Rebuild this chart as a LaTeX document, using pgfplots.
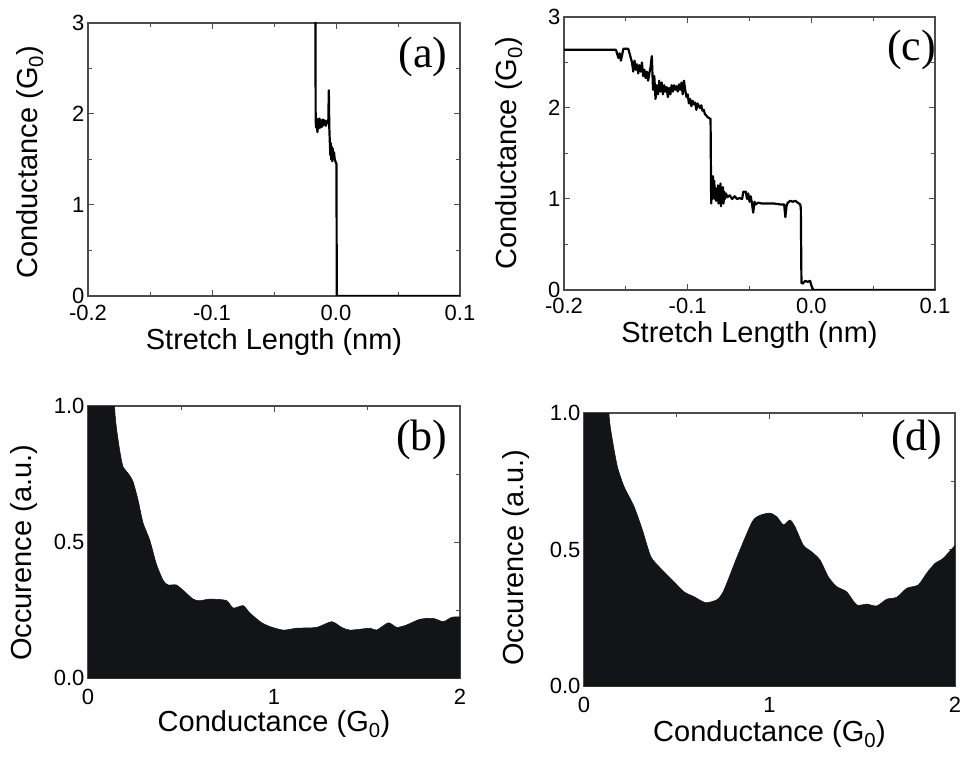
\documentclass[border=0pt]{standalone}
\usepackage{fontspec}
\setmainfont{Liberation Sans}
\newfontfamily\timesf{Liberation Serif}
\usepackage{pgfplots}
\pgfplotsset{compat=1.18}
\definecolor{histfill}{RGB}{18,20,23}
\pgfplotsset{
  panel/.style={
    scale only axis,
    anchor=south west,
    axis line style={draw=black!70, line width=1.2pt},
    every tick/.style={draw=black!70, line width=1pt},
    major tick length=6pt,
    minor tick length=4pt,
    minor x tick num=1,
    minor y tick num=1,
    tick label style={font=\fontsize{22}{22}\selectfont},
    xticklabel style={yshift=-8pt},
    label style={font=\fontsize{29}{29}\selectfont},
    clip=true,
  },
}
\tikzset{plab/.style={font=\timesf\fontsize{44}{44}\selectfont, anchor=center}}
\begin{document}
\begin{tikzpicture}
\path[use as bounding box] (0pt,0pt) rectangle (965pt,758pt);

% (a)
\begin{axis}[panel, at={(88pt,462pt)}, width=372pt, height=273pt,
  xmin=-0.2, xmax=0.1, ymin=0, ymax=3,
  xtick={-0.2,-0.1,0,0.1}, xticklabels={-0.2,-0.1,0.0,0.1},
  xticklabel style={yshift=2pt},
  ytick={0,1,2,3}, yticklabels={0,1,2,3},
  xlabel={Stretch Length (nm)}, ylabel={Conductance (G\textsubscript{0})},
  xlabel style={at={(axis description cs:0.5,-0.197)}, anchor=base},
  ylabel style={at={(axis description cs:-0.156,0.49)}, anchor=center}]
\addplot[black, line width=2.2pt, line join=round] coordinates {
(-0.0166,3.3) (-0.0164,1.92) (-0.0160,1.85) (-0.0155,1.95) (-0.0150,1.80) (-0.0145,1.94)
(-0.0140,1.84) (-0.0133,1.95) (-0.0126,1.85) (-0.0119,1.93) (-0.0112,1.86) (-0.0105,1.94)
(-0.0098,1.88) (-0.0090,1.93) (-0.0082,1.87) (-0.0075,1.92) (-0.0068,1.90) (-0.0062,1.92)
(-0.0058,2.26) (-0.0054,1.85) (-0.0050,1.70) (-0.0046,1.55) (-0.0042,1.68) (-0.0038,1.50)
(-0.0034,1.64) (-0.0030,1.48) (-0.0026,1.62) (-0.0022,1.50) (-0.0016,1.58) (-0.0010,1.50)
(0.0004,1.45) (0.0006,0) (0.1,0)};
\node[plab] at (axis description cs:0.90,0.875) {(a)};
\end{axis}

% (c)
\begin{axis}[panel, at={(564pt,468pt)}, width=371pt, height=273pt,
  xmin=-0.2, xmax=0.1, ymin=0, ymax=3,
  xtick={-0.2,-0.1,0,0.1}, xticklabels={-0.2,-0.1,0.0,0.1},
  xticklabel style={yshift=3pt},
  ytick={0,1,2,3}, yticklabels={0,1,2,3},
  xlabel={Stretch Length (nm)}, ylabel={Conductance (G\textsubscript{0})},
  xlabel style={at={(axis description cs:0.5,-0.192)}, anchor=base},
  ylabel style={at={(axis description cs:-0.148,0.5)}, anchor=center}]
\addplot[black, line width=2.2pt, line join=round] coordinates {
(-0.2,2.64) (-0.158,2.64) (-0.156,2.55) (-0.155,2.6) (-0.154,2.52) (-0.152,2.65) (-0.148,2.65)
(-0.146,2.55) (-0.145,2.5) (-0.144,2.4) (-0.143,2.52) (-0.142,2.42) (-0.141,2.48) (-0.140,2.38)
(-0.139,2.47) (-0.138,2.40) (-0.137,2.5) (-0.136,2.35) (-0.135,2.42) (-0.134,2.33) (-0.133,2.4)
(-0.132,2.3) (-0.131,2.38) (-0.130,2.45) (-0.129,2.57) (-0.128,2.2) (-0.127,2.35) (-0.126,2.1)
(-0.125,2.25) (-0.124,2.15) (-0.123,2.3) (-0.122,2.18) (-0.121,2.28) (-0.120,2.15) (-0.119,2.25)
(-0.118,2.18) (-0.117,2.23) (-0.116,2.12) (-0.115,2.22) (-0.114,2.15) (-0.113,2.25) (-0.112,2.18)
(-0.111,2.25) (-0.110,2.2) (-0.109,2.24) (-0.108,2.18) (-0.107,2.26) (-0.106,2.2) (-0.105,2.28)
(-0.104,2.15) (-0.103,2.3) (-0.102,2.2) (-0.101,2.12) (-0.100,2.15) (-0.099,2.05) (-0.098,2.1)
(-0.097,2.02) (-0.096,2.08) (-0.095,2.04) (-0.094,2.06) (-0.093,1.98) (-0.092,2.05) (-0.091,2.02)
(-0.090,2.0) (-0.089,2.03) (-0.088,1.97) (-0.087,1.98) (-0.086,1.93) (-0.085,1.92) (-0.084,1.9)
(-0.0815,1.88) (-0.081,0.95) (-0.0805,1.15) (-0.080,1.0) (-0.0795,1.25) (-0.079,1.05) (-0.0785,1.2)
(-0.078,1.0) (-0.0775,1.12) (-0.077,0.98) (-0.0765,1.1) (-0.076,1.03) (-0.0755,1.15) (-0.075,0.95)
(-0.0745,1.12) (-0.074,1.0) (-0.0735,1.17) (-0.073,0.92) (-0.0725,1.1) (-0.072,0.98) (-0.0715,1.13)
(-0.071,0.95) (-0.0705,1.08) (-0.070,1.0) (-0.069,1.06) (-0.068,1.02) (-0.066,1.04) (-0.064,1.0)
(-0.062,1.03) (-0.060,1.0) (-0.058,1.01) (-0.056,1.0) (-0.055,1.08) (-0.053,1.08) (-0.052,1.0)
(-0.051,1.06) (-0.050,0.97) (-0.049,1.03) (-0.048,0.95) (-0.047,0.85) (-0.046,0.97) (-0.045,0.94)
(-0.043,0.96) (-0.040,0.95) (-0.035,0.95) (-0.030,0.95) (-0.025,0.94) (-0.022,0.94) (-0.021,0.80)
(-0.020,0.93) (-0.019,0.96) (-0.017,0.98) (-0.015,0.97) (-0.013,0.98) (-0.011,0.96) (-0.009,0.94)
(-0.0085,0.9) (-0.008,0.08) (-0.007,0.07) (-0.005,0.1) (-0.003,0.09) (-0.001,0.1) (0.0,0.05)
(0.0015,0) (0.1,0)};
\node[plab] at (axis description cs:0.937,0.879) {(c)};
\end{axis}

% (b)
\begin{axis}[panel, at={(88pt,80pt)}, width=372pt, height=272pt,
  xmin=0, xmax=2, ymin=0, ymax=1,
  xtick={0,1,2}, xticklabels={0,1,2},
  ytick={0,0.5,1}, yticklabels={0.0,0.5,1.0},
  xlabel={Conductance (G\textsubscript{0})}, ylabel={Occurence (a.u.)},
  xlabel style={at={(axis description cs:0.5,-0.197)}, anchor=base},
  ylabel style={at={(axis description cs:-0.172,0.46)}, anchor=center}]
\addplot[draw=histfill, fill=histfill, line width=0.6pt, smooth, tension=0.4] coordinates {
(0,1.2) (0.14,1.2) (0.143,1.0) (0.152,0.924) (0.170,0.838) (0.188,0.777) (0.215,0.753)
(0.242,0.722) (0.269,0.654) (0.296,0.57) (0.332,0.507) (0.367,0.42) (0.403,0.36) (0.43,0.342)
(0.475,0.342) (0.52,0.317) (0.565,0.29) (0.60,0.284) (0.655,0.29) (0.744,0.285) (0.78,0.257)
(0.834,0.266) (0.87,0.239) (0.93,0.205) (0.978,0.189) (1.05,0.176) (1.122,0.183) (1.229,0.186)
(1.31,0.207) (1.364,0.186) (1.409,0.176) (1.516,0.183) (1.552,0.176) (1.615,0.203) (1.66,0.186)
(1.713,0.195) (1.785,0.216) (1.857,0.219) (1.91,0.207) (1.955,0.223) (2.0,0.225)} \closedcycle;
\node[plab] at (axis description cs:0.897,0.875) {(b)};
\end{axis}

% (d)
\begin{axis}[panel, at={(584pt,72pt)}, width=371pt, height=273pt,
  xmin=0, xmax=2, ymin=0, ymax=1,
  xtick={0,1,2}, xticklabels={0,1,2},
  ytick={0,0.5,1}, yticklabels={0.0,0.5,1.0},
  xlabel={Conductance (G\textsubscript{0})}, ylabel={Occurence (a.u.)},
  xlabel style={at={(axis description cs:0.5,-0.204)}, anchor=base},
  ylabel style={at={(axis description cs:-0.183,0.47)}, anchor=center}]
\addplot[draw=histfill, fill=histfill, line width=0.6pt, smooth, tension=0.4] coordinates {
(0,1.2) (0.132,1.2) (0.135,0.993) (0.153,0.901) (0.18,0.803) (0.216,0.73) (0.27,0.657)
(0.315,0.571) (0.36,0.474) (0.413,0.431) (0.476,0.388) (0.539,0.345) (0.593,0.327) (0.656,0.305)
(0.719,0.317) (0.755,0.352) (0.826,0.474) (0.907,0.602) (0.952,0.626) (1.003,0.633) (1.039,0.62)
(1.075,0.59) (1.11,0.608) (1.137,0.584) (1.182,0.516) (1.226,0.492) (1.272,0.462) (1.317,0.40)
(1.362,0.364) (1.416,0.345) (1.47,0.297) (1.524,0.30) (1.578,0.293) (1.632,0.318) (1.686,0.325)
(1.74,0.358) (1.802,0.37) (1.847,0.413) (1.892,0.449) (1.937,0.468) (2.0,0.515)} \closedcycle;
\node[plab] at (axis description cs:0.897,0.90) {(d)};
\end{axis}
\end{tikzpicture}
\end{document}
